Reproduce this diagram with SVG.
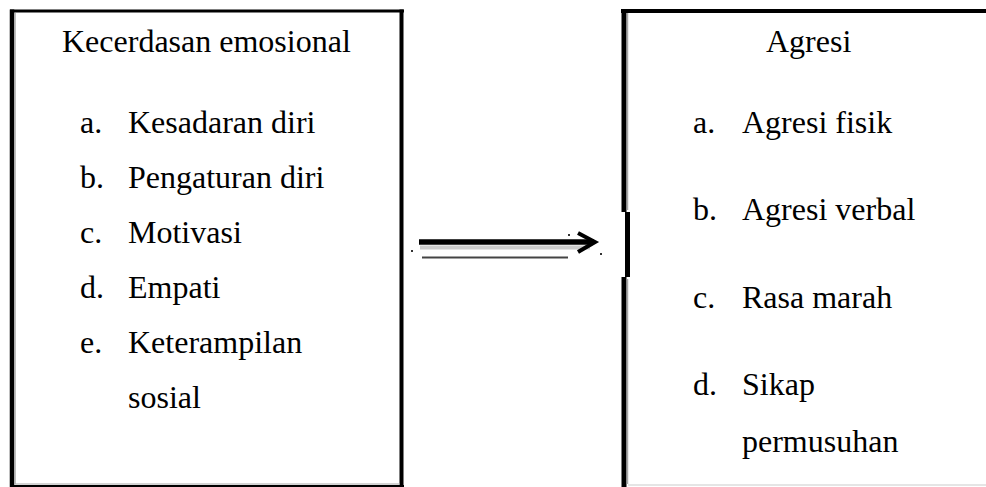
<svg xmlns="http://www.w3.org/2000/svg" width="986" height="487" viewBox="0 0 986 487">
<style>
.t{font-family:"Liberation Serif","Times New Roman",serif;font-size:32px;fill:#000}
.b{stroke:#000;fill:none}
.g{stroke:#a8a8a8;fill:none}
</style>
<rect width="986" height="487" fill="#fff"/>
<g id="node-kecerdasan">
<line class="b" x1="10" y1="11" x2="404" y2="11" stroke-width="3"/>
<line class="b" x1="12" y1="9.5" x2="12" y2="487" stroke-width="4.5"/>
<line class="g" x1="15" y1="13" x2="15" y2="484" stroke-width="1.5"/>
<line class="b" x1="401.5" y1="9.5" x2="401.5" y2="487" stroke-width="4"/>
<line class="b" x1="10" y1="486" x2="404" y2="486" stroke-width="2"/>
<line class="g" x1="14" y1="484" x2="400" y2="484" stroke-width="1" stroke="#bbb"/>
<text class="t" x="62" y="52">Kecerdasan emosional</text>
<text class="t" x="80" y="133">a.</text><text class="t" x="128" y="133">Kesadaran diri</text>
<text class="t" x="80" y="188">b.</text><text class="t" x="128" y="188">Pengaturan diri</text>
<text class="t" x="80" y="243">c.</text><text class="t" x="128" y="243">Motivasi</text>
<text class="t" x="80" y="298">d.</text><text class="t" x="128" y="298">Empati</text>
<text class="t" x="80" y="353">e.</text><text class="t" x="128" y="353">Keterampilan</text>
<text class="t" x="128" y="408">sosial</text>
</g>
<g id="node-agresi">
<line class="b" x1="621" y1="11" x2="986" y2="11" stroke-width="4"/>
<line class="b" x1="624" y1="9" x2="624" y2="212" stroke-width="5"/>
<line class="b" x1="627.5" y1="212" x2="627.5" y2="277" stroke-width="5"/>
<line class="b" x1="624" y1="277" x2="624" y2="487" stroke-width="5"/>
<line class="g" x1="627.5" y1="13" x2="627.5" y2="210" stroke-width="1.5"/>
<line class="g" x1="627.5" y1="279" x2="627.5" y2="484" stroke-width="1.5"/>
<line x1="628" y1="485" x2="986" y2="485" stroke="#ddd" stroke-width="1.5"/>
<text class="t" x="766" y="52">Agresi</text>
<text class="t" x="693" y="133">a.</text><text class="t" x="742" y="133">Agresi fisik</text>
<text class="t" x="693" y="220">b.</text><text class="t" x="742" y="220">Agresi verbal</text>
<text class="t" x="693" y="308">c.</text><text class="t" x="742" y="308">Rasa marah</text>
<text class="t" x="693" y="395">d.</text><text class="t" x="742" y="395">Sikap</text>
<text class="t" x="742" y="452">permusuhan</text>
</g>
<g id="connectors">
<line x1="420" y1="247.5" x2="590" y2="247.5" stroke="#ccc" stroke-width="4"/>
<line x1="419" y1="242" x2="594" y2="242" stroke="#000" stroke-width="5.5"/>
<polyline points="578,233 595,242 578,252" fill="none" stroke="#000" stroke-width="4"/>
<line x1="422" y1="257.5" x2="568" y2="257.5" stroke="#444" stroke-width="2"/>
<rect x="411" y="250" width="2" height="2" fill="#333"/>
<rect x="568" y="234" width="2" height="2" fill="#333"/>
<rect x="600" y="253" width="2" height="2" fill="#333"/>
</g>
</svg>
